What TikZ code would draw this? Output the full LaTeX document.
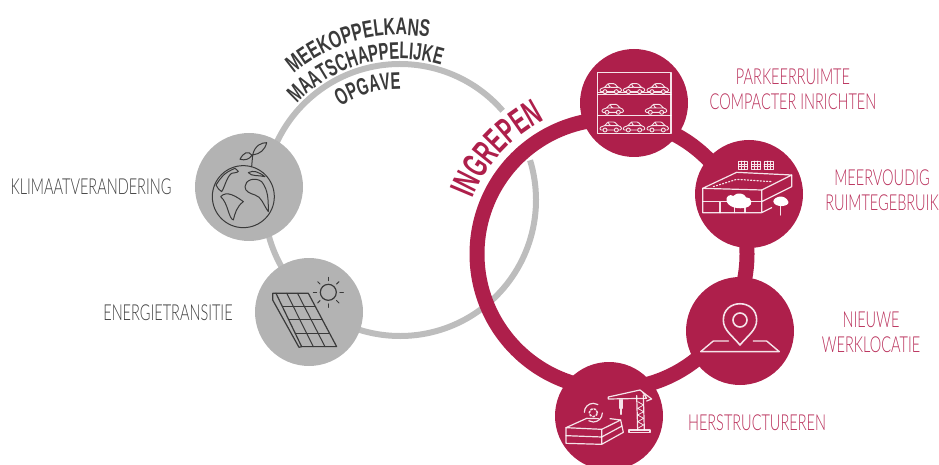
\documentclass[tikz,border=0pt]{standalone}
\usepackage{fontspec}
\usetikzlibrary{decorations.text}
\newfontfamily\condlight[FakeStretch=0.66]{Lato Light}
\newfontfamily\condbold[FakeStretch=0.66]{Liberation Sans Bold}
\newfontfamily\condboldn[FakeStretch=0.62]{Liberation Sans Bold}
\newfontfamily\condboldx[FakeStretch=0.58]{Liberation Sans Bold}
\definecolor{crim}{HTML}{AE1F4B}
\definecolor{ringgray}{HTML}{BDBDBD}
\definecolor{discgray}{HTML}{B3B3B3}
\definecolor{ink}{HTML}{3A3A3A}
\definecolor{pinktext}{HTML}{B92F5A}
\definecolor{graytext}{HTML}{404040}
\tikzset{
  disc/.style={circle,minimum size=108pt,inner sep=0pt,fill=#1},
  lab/.style={font=\condlight\fontsize{22pt}{25pt}\selectfont,inner sep=0pt,align=center},
  inkline/.style={draw=ink,line width=1pt,line join=round,line cap=round},
  wline/.style={draw=white,line width=1.2pt,line join=round,line cap=round,opacity=.88},
  car/.pic={
    \draw[wline,line width=.9pt,rounded corners=1pt] (-32,10) -- (-32,2) -- (-18,-3) -- (-8,-14) -- (12,-14) -- (22,-3) -- (32,1) -- (32,10) -- cycle (-8,-14) -- (-2,-3) -- (22,-3) (-18,-3) -- (-2,-3);
    \draw[wline,line width=.9pt,fill=crim] (-17,10) circle[radius=2pt] (17,10) circle[radius=2pt];
  }
}
\begin{document}
\begin{tikzpicture}[x=1pt,y=1pt]
\useasboundingbox (0,0) rectangle (939,464);
\clip (0,0) rectangle (939,464);
% rings
\draw[ringgray,line width=6pt] (400,264)+(41:136) arc[start angle=41,end angle=377,radius=136];
\draw[crim,line width=15pt] (612,210) circle[radius=135];
% discs
\node[disc=discgray] (globe) at (249,277) {};
\node[disc=discgray] (solar) at (309,152) {};
\node[disc=crim] (park) at (634,361) {};
\node[disc=crim] (multi) at (749,270) {};
\node[disc=crim] (loc) at (740,133) {};
\node[disc=crim] (herst) at (609,48) {};
% curved texts
\path[decorate,decoration={text along path,text align=center,text={|\condbold\fontsize{24pt}{24pt}\selectfont\color{ink}|MEEKOPPELKANS}}]
  (400,264)+(140:165) arc[start angle=140,end angle=70,radius=165];
\path[decorate,decoration={text along path,text align=center,text={|\condboldn\fontsize{24pt}{24pt}\selectfont\color{ink}|MAATSCHAPPELIJKE}}]
  (400,264)+(145:141) arc[start angle=145,end angle=65,radius=141];
\path[decorate,decoration={text along path,text align=center,text={|\condboldn\fontsize{24pt}{24pt}\selectfont\color{ink}|OPGAVE}}]
  (400,264)+(140:111) arc[start angle=140,end angle=72,radius=111];
\path[decorate,decoration={text along path,text align=center,text={|\condboldx\fontsize{36pt}{36pt}\selectfont\color{crim}|INGREPEN}}]
  (612,210)+(170:150) arc[start angle=170,end angle=105,radius=150];
% labels
\node[lab,text=graytext] (l1) at (91,277) {KLIMAATVERANDERING};
\node[lab,text=graytext] (l2) at (168,151) {ENERGIETRANSITIE};
\node[lab,text=pinktext] (l3) at (793,375) {PARKEERRUIMTE\\COMPACTER INRICHTEN};
\node[lab,text=pinktext] (l4) at (882,274) {MEERVOUDIG\\RUIMTEGEBRUIK};
\node[lab,text=pinktext] (l5) at (871,132) {NIEUWE\\WERKLOCATIE};
\node[lab,text=pinktext] (l6) at (757,41) {HERSTRUCTUREREN};
% globe icon
\begin{scope}[shift={(180,464)},x=0.3333pt,y=-0.3333pt]
  \draw[inkline] (190,590) circle[radius=31pt];
  \draw[inkline] (215,500) -- (218,465);
  \draw[inkline] (218,465) .. controls (225,435) and (245,428) .. (260,428) .. controls (255,450) and (240,462) .. (218,465);
  \draw[inkline] (216,466) .. controls (205,450) and (190,458) .. (180,478) .. controls (195,482) and (208,478) .. (216,466);
  \draw[inkline] (122,590) .. controls (140,570) and (170,590) .. (190,605) .. controls (170,620) and (165,640) .. (160,660) .. controls (145,655) and (145,610) .. (122,590);
  \draw[inkline] (195,560) .. controls (195,540) and (225,530) .. (245,545) .. controls (265,570) and (265,600) .. (265,635) .. controls (250,615) and (245,590) .. (225,585) .. controls (210,580) and (195,575) .. (195,560);
  \draw[inkline] (108,555) .. controls (125,530) and (130,520) .. (165,505) .. controls (175,515) and (185,515) .. (155,520) .. controls (140,530) and (135,560) .. (125,575) .. controls (118,570) and (112,565) .. (108,555);
  \draw[inkline] (205,518) .. controls (220,510) and (235,515) .. (255,530) .. controls (235,525) and (215,530) .. (205,518);
\end{scope}
% solar icon
\begin{scope}[shift={(190,334)},x=0.3333pt,y=-0.3333pt]
  \draw[inkline,line width=1.2pt] (258,490) -- (355,490) -- (440,650) -- (335,650) -- cycle;
  \draw[inkline,line width=1.2pt] (248,490) -- (258,490) (248,490) -- (248,510) -- (327,652) -- (335,650);
  \foreach \t in {0.25,0.5,0.75} {
    \draw[inkline] ({258+\t*77},{490+\t*160}) -- ({355+\t*85},{490+\t*160});
  }
  \foreach \t in {0.333,0.667} {
    \draw[inkline] ({258+\t*97},490) -- ({335+\t*105},650);
  }
  \draw[inkline,line width=1.2pt] (415,487) circle[radius=8pt];
  \foreach \a in {0,45,...,315} {
    \draw[inkline] ({415+35*cos(\a)},{487+35*sin(\a)}) -- ({415+45*cos(\a)},{487+45*sin(\a)});
  }
\end{scope}
% parking icon
\begin{scope}[shift={(570,404)},x=0.3333pt,y=-0.3333pt]
  \draw[wline,line width=1.4pt] (83,37) rectangle (303,220);
  \draw[wline] (83,103) -- (303,103) (83,166) -- (303,166);
  \draw[wline,line width=.9pt] (83,97) -- (303,97);
  \foreach \px/\py in {122/85,192/85,263/85,128/147,258/147,122/200,192/200,263/200} {
    \pic at (\px,\py) {car};
  }
\end{scope}
% mixed-use building icon
\begin{scope}[shift={(690,324)},x=0.3333pt,y=-0.3333pt]
  \foreach \sx in {145,184,222} {
    \draw[wline,line width=.6pt] (\sx,63) rectangle ({\sx+28},88);
    \draw[wline,line width=.6pt] (\sx,72) -- ({\sx+28},72) (\sx,80) -- ({\sx+28},80) ({\sx+9},63) -- ({\sx+9},88) ({\sx+19},63) -- ({\sx+19},88);
  }
  \draw[wline,line width=1.2pt] (38,145) -- (140,97) -- (305,105) -- (215,150) -- cycle;
  \draw[wline,dotted] (70,140) -- (140,118) -- (245,125);
  \draw[wline,line width=1.2pt] (38,145) -- (38,218) -- (215,218) -- (215,150) (305,105) -- (305,140) -- (215,185) (215,218) -- (245,203);
  \draw[wline] (38,185) -- (215,185) (90,185) -- (90,218);
  \fill[white] (110,185) .. controls (105,170) and (120,160) .. (130,168) .. controls (140,155) and (165,160) .. (168,172) .. controls (185,170) and (190,195) .. (175,200) .. controls (160,208) and (120,208) .. (110,185) -- cycle;
  \draw[wline,line width=1.2pt] (133,200) -- (133,218) (165,200) -- (165,218);
  \fill[white] (250,185) .. controls (250,170) and (285,160) .. (295,185) .. controls (300,200) and (255,205) .. (250,185) -- cycle;
  \draw[wline,line width=1.2pt] (272,195) -- (272,225);
\end{scope}
% restructuring icon
\begin{scope}[shift={(555,89)},x=0.3333pt,y=-0.3333pt]
  \draw[wline,line width=1.2pt] (95,130) -- (33,158) -- (140,163) -- (197,135) -- (165,131) (95,130) -- (130,131);
  \draw[wline,line width=1.2pt] (33,158) -- (33,205) -- (140,208) -- (205,172) -- (197,135) (140,163) -- (140,208);
  \draw[wline,line width=1.2pt] (33,182) -- (140,186) -- (201,153);
  \draw[wline] (88,112) arc[start angle=180,end angle=60,radius=9pt] (142,114) arc[start angle=0,end angle=-120,radius=9pt];
  \draw[wline,line width=1.6pt,dotted] (115,113) circle[radius=4pt];
  % crane
  \draw[wline,line width=1.2pt] (160,66) -- (255,45) -- (290,72) -- (275,78) (160,66) -- (160,72) -- (275,70) -- (262,50);
  \draw[wline,line width=1.2pt] (245,62) -- (248,165) (265,62) -- (268,165);
  \draw[wline,line width=.8pt] (248,80) -- (266,90) -- (248,100) -- (266,110) -- (248,120) -- (266,130) -- (248,140) -- (266,150) -- (248,160);
  \draw[wline,line width=1.2pt] (222,165) -- (285,165) -- (285,173) -- (222,173) -- cycle;
  \draw[wline,line width=1.2pt] (195,74) -- (195,100) (201,74) -- (201,100) (198,100) -- (198,118);
\end{scope}
% location icon
\begin{scope}[shift={(540,194)},x=0.3333pt,y=-0.3333pt]
  \draw[wline,line width=1.6pt] (600,225) .. controls (575,195) and (550,180) .. (550,150) .. controls (550,85) and (650,85) .. (650,150) .. controls (650,180) and (625,195) .. (600,225) -- cycle;
  \draw[wline,line width=1.6pt] (600,150) circle[radius=7pt];
  \draw[wline,line width=1.4pt] (565,213) -- (520,213) -- (482,245) -- (718,245) -- (680,213) -- (640,213);
\end{scope}
\end{tikzpicture}
\end{document}
